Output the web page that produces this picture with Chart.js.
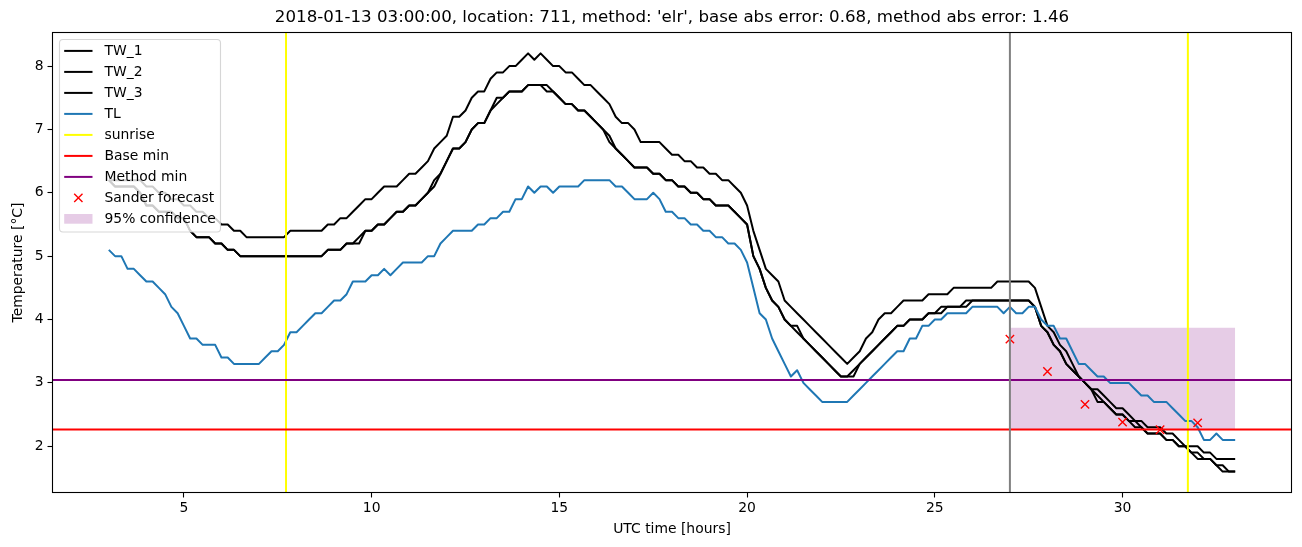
<!DOCTYPE html>
<html>
<head>
<meta charset="utf-8">
<script src="https://cdn.jsdelivr.net/npm/chart.js@4.4.1/dist/chart.umd.min.js"></script>
<style>
html,body{margin:0;padding:0;background:#ffffff;}
#wrap{width:1302px;height:547px;}
canvas{display:block;}
</style>
</head>
<body>
<div id="wrap"><canvas id="c" width="1302" height="547"></canvas></div>
<script>
// ---------------- data (10-minute samples from 03:00 to 33:00 UTC hours) ----------------
const startHour = 3;
const stepHours = 1 / 6;

const TW_1 = [
 6.2,6.2,6.2,6.2,6.2,6.2,
 6.1,6.1,6.0,6.0,5.9,5.9,
 5.8,5.8,5.7,5.7,5.6,5.6,
 5.5,5.5,5.4,5.4,5.3,5.3,
 5.3,5.3,5.3,5.3,5.3,5.4,
 5.4,5.4,5.4,5.4,5.4,5.5,
 5.5,5.6,5.6,5.7,5.8,5.9,
 5.9,6.0,6.1,6.1,6.1,6.2,
 6.3,6.3,6.4,6.5,6.7,6.8,
 6.9,7.2,7.2,7.3,7.5,7.6,
 7.6,7.8,7.9,7.9,8.0,8.0,
 8.1,8.2,8.1,8.2,8.1,8.0,
 8.0,7.9,7.9,7.8,7.7,7.7,
 7.6,7.5,7.4,7.2,7.1,7.1,
 7.0,6.8,6.8,6.8,6.8,6.7,
 6.6,6.6,6.5,6.5,6.4,6.4,
 6.3,6.3,6.2,6.2,6.1,6.0,
 5.8,5.4,5.1,4.8,4.7,4.6,
 4.3,4.2,4.1,4.0,3.9,3.8,
 3.7,3.6,3.5,3.4,3.3,3.4,
 3.5,3.7,3.8,4.0,4.1,4.1,
 4.2,4.3,4.3,4.3,4.3,4.4,
 4.4,4.4,4.4,4.5,4.5,4.5,
 4.5,4.5,4.5,4.5,4.6,4.6,
 4.6,4.6,4.6,4.6,4.5,4.2,
 3.9,3.8,3.6,3.5,3.3,3.1,
 3.0,2.9,2.9,2.8,2.7,2.6,
 2.6,2.5,2.4,2.4,2.3,2.3,
 2.3,2.2,2.2,2.1,2.0,2.0,
 2.0,1.9,1.9,1.8,1.8,1.8,
 1.8
];

const TW_2 = [
 6.2,6.1,6.1,6.1,6.1,6.0,
 5.8,5.8,5.7,5.7,5.7,5.6,
 5.6,5.4,5.3,5.3,5.3,5.2,
 5.2,5.1,5.1,5.0,5.0,5.0,
 5.0,5.0,5.0,5.0,5.0,5.0,
 5.0,5.0,5.0,5.0,5.0,5.1,
 5.1,5.1,5.2,5.2,5.3,5.4,
 5.4,5.5,5.5,5.6,5.7,5.7,
 5.8,5.8,5.9,6.0,6.2,6.3,
 6.5,6.7,6.7,6.8,7.0,7.1,
 7.1,7.3,7.5,7.5,7.6,7.6,
 7.6,7.7,7.7,7.7,7.7,7.6,
 7.5,7.4,7.4,7.3,7.3,7.2,
 7.1,7.0,6.8,6.7,6.6,6.5,
 6.4,6.4,6.4,6.3,6.3,6.2,
 6.2,6.1,6.1,6.0,6.0,5.9,
 5.9,5.8,5.8,5.8,5.7,5.6,
 5.5,5.0,4.8,4.5,4.3,4.2,
 4.0,3.9,3.8,3.7,3.6,3.5,
 3.4,3.3,3.2,3.1,3.1,3.1,
 3.3,3.4,3.5,3.6,3.7,3.8,
 3.9,3.9,4.0,4.0,4.0,4.1,
 4.1,4.1,4.2,4.2,4.2,4.3,
 4.3,4.3,4.3,4.3,4.3,4.3,
 4.3,4.3,4.3,4.3,4.2,3.9,
 3.8,3.6,3.5,3.3,3.2,3.1,
 3.0,2.9,2.8,2.7,2.6,2.5,
 2.5,2.4,2.4,2.3,2.2,2.2,
 2.2,2.1,2.1,2.0,2.0,1.9,
 1.9,1.8,1.8,1.7,1.7,1.6,
 1.6
];

const TW_3 = [
 6.2,6.1,6.1,6.1,6.1,6.0,
 5.8,5.8,5.7,5.7,5.7,5.6,
 5.6,5.4,5.3,5.3,5.3,5.2,
 5.2,5.1,5.1,5.0,5.0,5.0,
 5.0,5.0,5.0,5.0,5.0,5.0,
 5.0,5.0,5.0,5.0,5.0,5.1,
 5.1,5.1,5.2,5.2,5.2,5.4,
 5.4,5.5,5.5,5.6,5.7,5.7,
 5.8,5.8,5.9,6.0,6.1,6.3,
 6.5,6.7,6.7,6.8,7.0,7.1,
 7.1,7.3,7.4,7.5,7.6,7.6,
 7.6,7.7,7.7,7.7,7.6,7.6,
 7.5,7.4,7.4,7.3,7.3,7.2,
 7.1,7.0,6.9,6.7,6.6,6.5,
 6.4,6.4,6.4,6.3,6.3,6.2,
 6.2,6.1,6.1,6.0,6.0,5.9,
 5.9,5.8,5.8,5.8,5.7,5.6,
 5.5,5.0,4.8,4.5,4.3,4.2,
 4.0,3.9,3.9,3.7,3.6,3.5,
 3.4,3.3,3.2,3.1,3.1,3.2,
 3.3,3.4,3.5,3.6,3.7,3.8,
 3.9,3.9,4.0,4.0,4.0,4.1,
 4.1,4.2,4.2,4.2,4.2,4.2,
 4.3,4.3,4.3,4.3,4.3,4.3,
 4.3,4.3,4.3,4.3,4.2,3.9,
 3.8,3.6,3.5,3.3,3.2,3.1,
 3.0,2.9,2.7,2.7,2.6,2.5,
 2.5,2.4,2.3,2.3,2.2,2.2,
 2.2,2.1,2.1,2.0,2.0,1.9,
 1.8,1.8,1.8,1.7,1.6,1.6,
 1.6
];

const TL = [
 5.1,5.0,5.0,4.8,4.8,4.7,
 4.6,4.6,4.5,4.4,4.2,4.1,
 3.9,3.7,3.7,3.6,3.6,3.6,
 3.4,3.4,3.3,3.3,3.3,3.3,
 3.3,3.4,3.5,3.5,3.6,3.8,
 3.8,3.9,4.0,4.1,4.1,4.2,
 4.3,4.3,4.4,4.6,4.6,4.6,
 4.7,4.7,4.8,4.7,4.8,4.9,
 4.9,4.9,4.9,5.0,5.0,5.2,
 5.3,5.4,5.4,5.4,5.4,5.5,
 5.5,5.6,5.6,5.7,5.7,5.9,
 5.9,6.1,6.0,6.1,6.1,6.0,
 6.1,6.1,6.1,6.1,6.2,6.2,
 6.2,6.2,6.2,6.1,6.1,6.0,
 5.9,5.9,5.9,6.0,5.9,5.7,
 5.7,5.6,5.6,5.5,5.5,5.4,
 5.4,5.3,5.3,5.2,5.2,5.1,
 4.9,4.5,4.1,4.0,3.7,3.5,
 3.3,3.1,3.2,3.0,2.9,2.8,
 2.7,2.7,2.7,2.7,2.7,2.8,
 2.9,3.0,3.1,3.2,3.3,3.4,
 3.5,3.5,3.7,3.7,3.9,3.9,
 4.0,4.0,4.1,4.1,4.1,4.1,
 4.2,4.2,4.2,4.2,4.2,4.1,
 4.2,4.1,4.1,4.2,4.2,4.0,
 3.9,3.9,3.7,3.7,3.5,3.3,
 3.3,3.2,3.1,3.1,3.0,3.0,
 3.0,3.0,2.9,2.8,2.8,2.7,
 2.7,2.7,2.6,2.5,2.4,2.4,
 2.3,2.1,2.1,2.2,2.1,2.1,
 2.1
];

const sunriseHours = [7.72, 31.74];
const forecastIssueHour = [27.0];
const baseMin = 2.265;
const methodMin = 3.045;
const forecastHours = [27, 28, 29, 30, 31, 32];
const forecastValues = [3.69, 3.18, 2.66, 2.38, 2.26, 2.37];
const confHours = [27, 33];
const confLow = [2.265, 2.265];
const confHigh = [3.87, 3.87];

const xRange = [1.5, 34.5];
const yRange = [1.27, 8.53];
const xTicks = [5, 10, 15, 20, 25, 30];
const yTicks = [2, 3, 4, 5, 6, 7, 8];

const titleText = "2018-01-13 03:00:00, location: 711, method: 'elr', base abs error: 0.68, method abs error: 1.46";
const xLabel = 'UTC time [hours]';
const yLabel = 'Temperature [°C]';

// ---------------- build ----------------
const times = TL.map((_, i) => startHour + i * stepHours);
const pts = (xs, ys) => xs.map((x, i) => ({x: x, y: ys[i]}));
const vlines = hs => hs.flatMap(h => [{x: h, y: yRange[0]}, {x: h, y: yRange[1]}, {x: h, y: null}]);
const hline = v => [{x: xRange[0], y: v}, {x: xRange[1], y: v}];

const FONT = 'DejaVu Sans';
const PURPLE_FILL = 'rgba(128,0,128,0.2)';

const lineDs = (label, data, color, order, extra) => Object.assign({
  label: label, data: data, borderColor: color, backgroundColor: color,
  borderWidth: 2, pointRadius: 0, fill: false, tension: 0, order: order,
  borderJoinStyle: 'round', spanGaps: false
}, extra || {});

const datasets = [
  lineDs('_conf_low', pts(confHours, confLow), 'rgba(0,0,0,0)', 100, {borderWidth: 0}),
  lineDs('95% confidence', pts(confHours, confHigh), 'rgba(0,0,0,0)', 99, {borderWidth: 0, fill: '-1', backgroundColor: PURPLE_FILL}),
  lineDs('TW_1', pts(times, TW_1), '#000000', 90),
  lineDs('TW_2', pts(times, TW_2), '#000000', 89),
  lineDs('TW_3', pts(times, TW_3), '#000000', 88),
  lineDs('TL', pts(times, TL), '#1f77b4', 87),
  lineDs('sunrise', vlines(sunriseHours), '#ffff00', 86),
  lineDs('Base min', hline(baseMin), '#ff0000', 85),
  lineDs('Method min', hline(methodMin), '#800080', 84),
  lineDs('Sander forecast', pts(forecastHours, forecastValues), '#ff0000', 83,
    {showLine: false, pointStyle: 'crossRot', pointRadius: 5.9, borderWidth: 1.4, pointBorderColor: '#ff0000'}),
  lineDs('_issue', vlines(forecastIssueHour), '#808080', 82)
];

const legendItems = [
  {label: 'TW_1', kind: 'line', color: '#000000'},
  {label: 'TW_2', kind: 'line', color: '#000000'},
  {label: 'TW_3', kind: 'line', color: '#000000'},
  {label: 'TL', kind: 'line', color: '#1f77b4'},
  {label: 'sunrise', kind: 'line', color: '#ffff00'},
  {label: 'Base min', kind: 'line', color: '#ff0000'},
  {label: 'Method min', kind: 'line', color: '#800080'},
  {label: 'Sander forecast', kind: 'cross', color: '#ff0000'},
  {label: '95% confidence', kind: 'patch', color: PURPLE_FILL}
];

function roundRect(ctx, x, y, w, h, r) {
  ctx.beginPath();
  ctx.moveTo(x + r, y);
  ctx.lineTo(x + w - r, y);
  ctx.arcTo(x + w, y, x + w, y + r, r);
  ctx.lineTo(x + w, y + h - r);
  ctx.arcTo(x + w, y + h, x + w - r, y + h, r);
  ctx.lineTo(x + r, y + h);
  ctx.arcTo(x, y + h, x, y + h - r, r);
  ctx.lineTo(x, y + r);
  ctx.arcTo(x, y, x + r, y, r);
  ctx.closePath();
}

const framePlugin = {
  id: 'frameAndLegend',
  afterDraw(chart) {
    const ctx = chart.ctx, a = chart.chartArea;
    ctx.save();
    // axes frame
    ctx.strokeStyle = '#000000';
    ctx.lineWidth = 1.1;
    ctx.strokeRect(a.left, a.top, a.right - a.left, a.bottom - a.top);
    // legend
    const bx = a.left + 7, by = a.top + 7, bw = 161, bh = 192.5;
    roundRect(ctx, bx, by, bw, bh, 3.5);
    ctx.fillStyle = 'rgba(255,255,255,0.8)';
    ctx.fill();
    ctx.strokeStyle = 'rgba(204,204,204,0.8)';
    ctx.lineWidth = 1.1;
    ctx.stroke();
    ctx.font = '13.9px "' + FONT + '"';
    ctx.textBaseline = 'middle';
    ctx.textAlign = 'left';
    legendItems.forEach((it, i) => {
      const cy = by + 11.4 + i * 21.0;
      const hx0 = bx + 4.7, hx1 = bx + 33;
      if (it.kind === 'line') {
        ctx.strokeStyle = it.color; ctx.lineWidth = 2;
        ctx.beginPath(); ctx.moveTo(hx0, cy); ctx.lineTo(hx1, cy); ctx.stroke();
      } else if (it.kind === 'cross') {
        const cx = (hx0 + hx1) / 2, d = 4.15;
        ctx.strokeStyle = it.color; ctx.lineWidth = 1.4;
        ctx.beginPath();
        ctx.moveTo(cx - d, cy - d); ctx.lineTo(cx + d, cy + d);
        ctx.moveTo(cx - d, cy + d); ctx.lineTo(cx + d, cy - d);
        ctx.stroke();
      } else {
        ctx.fillStyle = it.color;
        ctx.fillRect(hx0, cy - 4.9, hx1 - hx0, 9.7);
      }
      ctx.fillStyle = '#000000';
      ctx.fillText(it.label, bx + 45, cy + 0.5);
    });
    ctx.restore();
  }
};

const axisFont = {family: FONT, size: 13.9, weight: 'normal', lineHeight: 1.2};

new Chart(document.getElementById('c'), {
  type: 'line',
  data: {datasets: datasets},
  plugins: [framePlugin],
  options: {
    responsive: false,
    animation: false,
    devicePixelRatio: 1,
    parsing: true,
    layout: {padding: {left: 0, right: 10.5, top: 0, bottom: 0}},
    plugins: {
      legend: {display: false},
      tooltip: {enabled: false},
      title: {
        display: true, fullSize: false, text: titleText, color: '#000000',
        font: {family: FONT, size: 16.67, weight: 'normal', lineHeight: 1.2},
        padding: {top: 8, bottom: 4.5}
      }
    },
    scales: {
      x: {
        type: 'linear', position: 'bottom', min: xRange[0], max: xRange[1],
        afterBuildTicks: s => { s.ticks = xTicks.map(v => ({value: v})); },
        afterFit: s => { s.height = 54.5; },
        grid: {display: true, drawOnChartArea: false, drawTicks: true, tickLength: 5, tickColor: '#000000', tickWidth: 1.1},
        border: {display: false},
        ticks: {color: '#000000', font: axisFont, padding: 3, maxRotation: 0, autoSkip: false},
        title: {display: true, text: xLabel, color: '#000000', font: axisFont, padding: {top: 0, bottom: 9}}
      },
      y: {
        type: 'linear', position: 'left', min: yRange[0], max: yRange[1],
        afterBuildTicks: s => { s.ticks = yTicks.map(v => ({value: v})); },
        afterFit: s => { s.width = 52.5; },
        grid: {display: true, drawOnChartArea: false, drawTicks: true, tickLength: 5, tickColor: '#000000', tickWidth: 1.1},
        border: {display: false},
        ticks: {color: '#000000', font: axisFont, padding: 4, autoSkip: false},
        title: {display: true, text: yLabel, color: '#000000', font: axisFont, padding: {top: 10, bottom: 0}}
      }
    }
  }
});
</script>
</body>
</html>
